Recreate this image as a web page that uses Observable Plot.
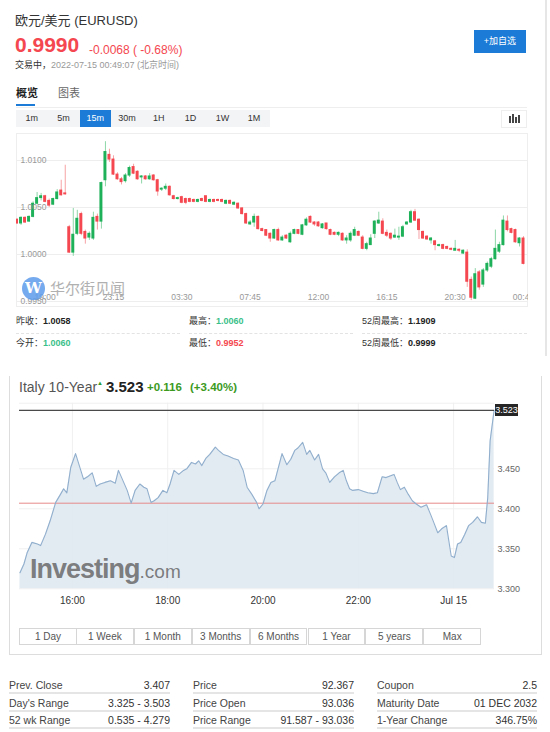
<!DOCTYPE html>
<html><head><meta charset="utf-8">
<script src="https://cdn.jsdelivr.net/npm/d3@7"></script>
<script src="https://cdn.jsdelivr.net/npm/@observablehq/plot@0.6"></script>
<style>
body{margin:0;width:550px;height:732px;position:relative;overflow:hidden;background:#fff;font-family:Arial,"Liberation Sans","Noto Sans CJK SC",sans-serif;}
.a{position:absolute;white-space:nowrap;line-height:1;}
</style></head><body>
<script>
// ---------- EUR/USD 15m candles (Jul 13 17:15 -> Jul 15 00:45) ----------
const candleOpen = [1.0037,1.0033,1.0039,1.0035,1.0040,1.0054,1.0060,1.0062,1.0057,1.0053,1.0059,1.0068,1.0065,1.0029,1.0002,1.0022,1.0043,1.0024,1.0018,1.0017,1.0040,1.0035,1.0079,1.0106,1.0101,1.0085,1.0080,1.0078,1.0084,1.0093,1.0088,1.0082,1.0083,1.0080,1.0084,1.0079,1.0069,1.0070,1.0072,1.0062,1.0059,1.0061,1.0059,1.0059,1.0058,1.0056,1.0059,1.0062,1.0056,1.0058,1.0058,1.0058,1.0054,1.0057,1.0053,1.0054,1.0049,1.0043,1.0032,1.0034,1.0040,1.0027,1.0026,1.0022,1.0017,1.0026,1.0015,1.0020,1.0013,1.0022,1.0026,1.0021,1.0031,1.0040,1.0034,1.0034,1.0028,1.0033,1.0026,1.0023,1.0021,1.0022,1.0015,1.0015,1.0020,1.0024,1.0018,1.0006,1.0010,1.0022,1.0033,1.0035,1.0023,1.0022,1.0018,1.0018,1.0019,1.0032,1.0034,1.0045,1.0037,1.0024,1.0019,1.0015,1.0014,1.0009,1.0010,1.0008,1.0006,1.0004,1.0005,1.0001,1.0002,0.9973,0.9953,0.9981,0.9968,0.9983,0.9987,0.9995,1.0003,1.0010,1.0035,1.0027,1.0026,1.0012,1.0017];
const candleClose = [1.0033,1.0039,1.0034,1.0040,1.0054,1.0060,1.0062,1.0056,1.0052,1.0059,1.0066,1.0063,1.0064,1.0002,1.0021,1.0038,1.0022,1.0017,1.0022,1.0039,1.0035,1.0076,1.0109,1.0101,1.0085,1.0080,1.0077,1.0084,1.0092,1.0086,1.0080,1.0083,1.0080,1.0083,1.0079,1.0067,1.0070,1.0072,1.0063,1.0059,1.0060,1.0055,1.0055,1.0056,1.0056,1.0058,1.0057,1.0056,1.0058,1.0056,1.0057,1.0056,1.0057,1.0054,1.0055,1.0049,1.0043,1.0033,1.0034,1.0040,1.0027,1.0025,1.0020,1.0017,1.0026,1.0015,1.0018,1.0017,1.0022,1.0026,1.0022,1.0031,1.0037,1.0034,1.0032,1.0030,1.0032,1.0027,1.0021,1.0021,1.0023,1.0015,1.0017,1.0022,1.0026,1.0020,1.0006,1.0011,1.0017,1.0035,1.0036,1.0022,1.0020,1.0017,1.0020,1.0019,1.0029,1.0034,1.0045,1.0036,1.0026,1.0017,1.0016,1.0017,1.0010,1.0010,1.0006,1.0006,1.0005,1.0006,1.0004,1.0004,0.9971,0.9954,0.9979,0.9965,0.9983,0.9990,0.9995,1.0006,1.0010,1.0036,1.0026,1.0023,1.0013,1.0017,0.9990];
const candleHigh = [1.0038,1.0040,1.0040,1.0041,1.0056,1.0066,1.0065,1.0063,1.0059,1.0060,1.0069,1.0079,1.0095,1.0031,1.0049,1.0047,1.0045,1.0026,1.0024,1.0045,1.0043,1.0077,1.0120,1.0112,1.0105,1.0087,1.0082,1.0086,1.0094,1.0096,1.0089,1.0084,1.0084,1.0086,1.0085,1.0080,1.0071,1.0075,1.0073,1.0063,1.0061,1.0062,1.0060,1.0060,1.0059,1.0059,1.0060,1.0062,1.0059,1.0059,1.0059,1.0059,1.0058,1.0058,1.0056,1.0055,1.0050,1.0044,1.0036,1.0043,1.0041,1.0028,1.0026,1.0023,1.0027,1.0028,1.0020,1.0021,1.0024,1.0027,1.0026,1.0032,1.0039,1.0041,1.0035,1.0035,1.0033,1.0033,1.0027,1.0024,1.0024,1.0023,1.0020,1.0024,1.0029,1.0025,1.0020,1.0013,1.0021,1.0036,1.0045,1.0038,1.0026,1.0023,1.0027,1.0029,1.0031,1.0035,1.0047,1.0048,1.0038,1.0025,1.0020,1.0018,1.0015,1.0011,1.0011,1.0009,1.0007,1.0015,1.0006,1.0005,1.0005,0.9976,0.9985,0.9983,0.9985,0.9992,0.9997,1.0026,1.0013,1.0041,1.0041,1.0028,1.0027,1.0018,1.0019];
const candleLow = [1.0032,1.0031,1.0033,1.0034,1.0039,1.0053,1.0057,1.0055,1.0050,1.0052,1.0058,1.0062,1.0063,1.0001,0.9998,1.0020,1.0020,1.0011,1.0015,1.0015,1.0026,1.0027,1.0072,1.0098,1.0084,1.0079,1.0074,1.0076,1.0082,1.0085,1.0079,1.0075,1.0079,1.0079,1.0078,1.0062,1.0067,1.0068,1.0062,1.0058,1.0058,1.0054,1.0053,1.0055,1.0055,1.0055,1.0056,1.0055,1.0055,1.0055,1.0056,1.0055,1.0053,1.0053,1.0052,1.0048,1.0042,1.0032,1.0031,1.0029,1.0026,1.0024,1.0019,1.0013,1.0016,1.0014,1.0014,1.0016,1.0012,1.0021,1.0021,1.0020,1.0030,1.0033,1.0030,1.0029,1.0027,1.0026,1.0020,1.0020,1.0019,1.0014,1.0011,1.0013,1.0019,1.0019,1.0005,1.0004,1.0010,1.0017,1.0032,1.0021,1.0018,1.0015,1.0017,1.0015,1.0018,1.0031,1.0033,1.0035,1.0016,1.0016,1.0015,1.0011,1.0004,1.0008,1.0005,1.0005,1.0004,1.0004,1.0002,1.0000,0.9965,0.9951,0.9952,0.9962,0.9965,0.9981,0.9985,0.9994,1.0001,1.0009,1.0024,1.0022,1.0012,1.0008,0.9989];
const candleTickIndex = [7,24,41,58,75,92,109,126];
const candleTickLabels = ["19:00","23:15","03:30","07:45","12:00","16:15","20:30","00:45"];
const priceTicks = [1.0100,1.0050,1.0000,0.9950];

// ---------- Italy 10-Year yield intraday ----------
const itTimes = ["14:54","14:59","15:03","15:09","15:16","15:20","15:26","15:32","15:39","15:45","15:49","15:53","15:58","16:04","16:10","16:14","16:19","16:25","16:30","16:35","16:41","16:48","16:54","16:58","17:02","17:09","17:14","17:19","17:25","17:30","17:34","17:39","17:43","17:48","17:54","17:59","18:03","18:08","18:14","18:20","18:24","18:30","18:35","18:39","18:43","18:48","18:53","19:00","19:04","19:10","19:16","19:23","19:29","19:35","19:40","19:46","19:52","19:55","20:00","20:05","20:10","20:15","20:24","20:30","20:35","20:40","20:44","20:50","20:55","20:59","21:05","21:10","21:15","21:19","21:24","21:30","21:36","21:41","21:45","21:49","21:53","22:00","22:06","22:12","22:19","22:24","22:30","22:35","22:40","22:45","22:49","22:53","22:58","23:03","23:08","23:13","23:19","23:26","23:31","23:35","23:40","23:45","23:51","23:54","23:57","00:01","00:05","00:09","00:14","00:19","00:24","00:30","00:35","00:40","00:43","00:46","00:51"];
const itValues = [3.320,3.331,3.345,3.358,3.356,3.354,3.368,3.385,3.408,3.418,3.425,3.420,3.452,3.469,3.450,3.437,3.440,3.445,3.428,3.431,3.433,3.435,3.432,3.448,3.439,3.423,3.407,3.423,3.431,3.427,3.425,3.408,3.410,3.414,3.423,3.420,3.431,3.448,3.443,3.448,3.450,3.458,3.456,3.460,3.454,3.463,3.468,3.477,3.473,3.468,3.466,3.463,3.461,3.448,3.427,3.418,3.408,3.400,3.406,3.423,3.433,3.435,3.469,3.455,3.462,3.473,3.476,3.483,3.468,3.473,3.461,3.468,3.450,3.445,3.433,3.440,3.445,3.448,3.435,3.425,3.423,3.424,3.422,3.420,3.419,3.420,3.440,3.439,3.441,3.443,3.433,3.424,3.427,3.418,3.410,3.406,3.402,3.405,3.393,3.383,3.370,3.375,3.379,3.360,3.341,3.339,3.356,3.358,3.368,3.379,3.383,3.390,3.383,3.382,3.414,3.485,3.523];
const itTickTimes = ["2022-07-14T16:00","2022-07-14T18:00","2022-07-14T20:00","2022-07-14T22:00","2022-07-15T00:00"];
const itTickLabels = ["16:00","18:00","20:00","22:00","Jul 15"];
const itYTicks = [3.300,3.350,3.400,3.450];
const itPrevClose = 3.407;
const itLast = 3.523;
const itDomain = ["2022-07-14T14:53:24","2022-07-15T00:51:30"];

const intervals = ["1m","5m","15m","30m","1H","1D","1W","1M"];
const ranges = ["1 Day","1 Week","1 Month","3 Months","6 Months","1 Year","5 years","Max"];
const statLabels = [["Prev. Close","Day's Range","52 wk Range"],["Price","Price Open","Price Range"],["Coupon","Maturity Date","1-Year Change"]];
const statValues = [["3.407","3.325 - 3.503","0.535 - 4.279"],["92.367","93.036","91.587 - 93.036"],["2.5","01 DEC 2032","346.75%"]];

// ---------- helpers ----------
function box(x,y,w,h,style){const e=document.createElement("div");e.className="a";Object.assign(e.style,{left:x+"px",top:y+"px",width:w+"px",height:h+"px"},style||{});document.body.appendChild(e);return e;}
function txt(x,y,t,style,html){const e=document.createElement("div");e.className="a";Object.assign(e.style,{left:x+"px",top:y+"px"},style||{});if(html)e.innerHTML=t;else e.textContent=t;document.body.appendChild(e);return e;}
const BLUE="#1b7bd7", RED="#f4474f";

// ---------- top header ----------
txt(15,14,"欧元/美元 (EURUSD)",{fontSize:"13px",color:"#333"});
txt(15,34,"0.9990",{fontSize:"21px",fontWeight:"bold",color:RED});
txt(89,44,"-0.0068 ( -0.68%)",{fontSize:"12px",color:RED});
txt(15,61,'<span style="color:#333">交易中，</span>2022-07-15 00:49:07 (北京时间)',{fontSize:"9px",color:"#999"},true);
const btn=box(474,30,52,23,{background:BLUE,color:"#fff",fontSize:"9px",textAlign:"center",lineHeight:"23px"});btn.textContent="+加自选";
txt(16,88,"概览",{fontSize:"11px",color:"#222",fontWeight:"bold"});
box(16,104,19,2,{background:BLUE});
txt(58,88,"图表",{fontSize:"11px",color:"#666"});
box(16,107,511,1,{background:"#eee"});
box(16,110,254,17,{background:"#f3f4f6"});
intervals.forEach((s,i)=>{const c=box(16+i*31.75,110,31.75,17,{fontSize:"9px",textAlign:"center",lineHeight:"17px",color:s==="15m"?"#fff":"#333",background:s==="15m"?BLUE:"transparent"});c.textContent=s;});
const ib=box(501,110,24,16,{border:"1px solid #eee",background:"#fff"});
[[7,5,2,7],[10,3,2,9],[13,6,2,6],[16,4,2,8]].forEach(r=>{const b=document.createElement("div");Object.assign(b.style,{position:"absolute",left:r[0]+"px",top:r[1]+"px",width:r[2]+"px",height:r[3]+"px",background:"#444"});ib.appendChild(b);});

// ---------- candlestick chart ----------
box(16,133,512,174,{border:"1px solid #eee",boxSizing:"border-box"});
const candles = candleOpen.map((o,i)=>({i,o,c:candleClose[i],h:candleHigh[i],l:candleLow[i],up:candleClose[i]>=o}));
const cChart = Plot.plot({
  width:512,height:174,margin:0,
  x:{domain:[-0.124,127.24],axis:null},
  y:{domain:[0.994362,1.012872],axis:null},
  style:{background:"transparent",fontFamily:"Arial, 'Liberation Sans', sans-serif"},
  marks:[
    Plot.ruleY(priceTicks,{stroke:"#eeeeee"}),
    Plot.ruleX(candles,{x:"i",y1:"l",y2:"h",stroke:d=>d.up?"#8ed6a8":"#f7a2a5",strokeWidth:1}),
    Plot.rect(candles,{x1:d=>d.i-0.37,x2:d=>d.i+0.37,y1:"o",y2:"c",fill:d=>d.up?"#1fb15a":"#f4474f",insetTop:-0.5,insetBottom:-0.5}),
    Plot.text(priceTicks,{y:d=>d,frameAnchor:"left",dx:4,text:d=>d.toFixed(4),textAnchor:"start",fill:"#999",fontSize:8.5}),
    Plot.text(candleTickIndex,{x:d=>d,frameAnchor:"bottom",dy:-8,text:(d,i)=>candleTickLabels[i],fill:"#999",fontSize:8.5})
  ]
});
Object.assign(cChart.style,{position:"absolute",left:"16px",top:"133px"});
document.body.appendChild(cChart);
const logo=box(22,277,23,23,{borderRadius:"50%",background:"#5d9cec",opacity:"0.85",color:"#fff",fontSize:"15px",fontWeight:"bold",textAlign:"center",lineHeight:"23px",fontFamily:"'DejaVu Serif',serif"});logo.textContent="W";
txt(50,280,"华尔街见闻",{fontSize:"15px",color:"#a8a8a8",fontFamily:"'Noto Sans CJK SC'",opacity:"0.9"});

// ---------- stats (top) ----------
const topStats=[["昨收：","1.0058","#222"],["最高：","1.0060","#3bbf8a"],["52周最高：","1.1909","#222"],["今开：","1.0060","#3bbf8a"],["最低：","0.9952","#f4474f"],["52周最低：","0.9999","#222"]];
const colX=[16,189,362];
topStats.forEach((s,i)=>{const r=Math.floor(i/3),c=i%3;txt(colX[c],317+r*22,s[0]+'<b style="color:'+s[2]+'">'+s[1]+'</b>',{fontSize:"9px",color:"#333"},true);});
colX.forEach(x=>box(x,333,x===362?165:164,0,{borderTop:"1px dashed #e3e3e3"}));
box(545,0,2,356,{background:"#e6e6e6"});

// ---------- bottom section ----------
box(9,376,531,278,{border:"1px solid #ddd",borderTop:"none"});
txt(19,380,"Italy 10-Year",{fontSize:"14px",color:"#555"});
txt(97,380,"▲",{fontSize:"6px",color:"#2e9a2e"});
txt(106,379,"3.523",{fontSize:"15px",fontWeight:"bold",color:"#222"});
txt(147,382,"+0.116",{fontSize:"11.5px",fontWeight:"bold",color:"#3c9a1e"});
txt(190,382,"(+3.40%)",{fontSize:"11.5px",fontWeight:"bold",color:"#3c9a1e"});

const series = itTimes.map((t,i)=>({t:new Date((t<"12:00"?"2022-07-15T":"2022-07-14T")+t),v:itValues[i]}));
const tickDates = itTickTimes.map(s=>new Date(s));
const labelByTime = new Map(tickDates.map((d,i)=>[+d,itTickLabels[i]]));
const iChart = Plot.plot({
  width:506,height:215,marginLeft:0,marginRight:31,marginTop:2.7,marginBottom:26.7,
  x:{type:"time",domain:itDomain.map(s=>new Date(s)),label:null},
  y:{domain:[3.300,3.532],label:null},
  style:{background:"transparent",fontFamily:"Arial, 'Liberation Sans', sans-serif",fontSize:"9px"},
  marks:[
    Plot.ruleX(tickDates,{stroke:"#f0f0f0"}),
    Plot.ruleY(itYTicks,{stroke:"#f0f0f0"}),
    Plot.ruleY([3.532],{stroke:"#f0f0f0"}),
    Plot.areaY(series,{x:"t",y1:3.300,y2:"v",fill:"#dfe8f1",fillOpacity:0.92}),
    Plot.ruleY([itPrevClose],{stroke:"#e68a8a",strokeWidth:1}),
    Plot.line(series,{x:"t",y:"v",stroke:"#91afcd",strokeWidth:1.1}),
    Plot.ruleY([itLast],{stroke:"#4a4a4a",strokeWidth:1.2}),
    Plot.axisX({ticks:tickDates,tickFormat:d=>labelByTime.get(+d),tickSize:0,tickPadding:8,fontSize:10,fill:"#333",label:null}),
    Plot.axisY({anchor:"right",ticks:itYTicks,tickFormat:d=>d.toFixed(3),tickSize:0,tickPadding:3,fontSize:9,fill:"#666",label:null})
  ]
});
Object.assign(iChart.style,{position:"absolute",left:"19px",top:"400px"});
document.body.appendChild(iChart);
const yLast = iChart.scale("y").apply(itLast)+400;
const lb=box(495,yLast-6,23,12,{background:"#262626",color:"#fff",fontSize:"9px",textAlign:"center",lineHeight:"12px"});lb.textContent=itLast.toFixed(3);
txt(30,556,'Investing<span style="font-weight:normal;font-size:19px;letter-spacing:0">.com</span>',{fontSize:"27px",fontWeight:"bold",color:"rgba(95,95,95,0.8)",letterSpacing:"-1px"},true);

ranges.forEach((s,i)=>{const c=box(19+i*57.9,628,57.9,17,{border:"1px solid #d6d6d6",boxSizing:"border-box",marginLeft:i?"-1px":"0",fontSize:"10px",textAlign:"center",lineHeight:"15px",color:"#555",background:"#fff"});c.textContent=s;});

const sCols=[[9,170],[193,354],[377,537]];
statLabels.forEach((col,c)=>col.forEach((lab,r)=>{
  const y=680+r*17.6;
  txt(sCols[c][0],y,lab,{fontSize:"10.5px",color:"#444"});
  txt(sCols[c][0],y,statValues[c][r],{fontSize:"10.5px",color:"#333",width:(sCols[c][1]-sCols[c][0])+"px",textAlign:"right"});
  box(sCols[c][0],y+12,sCols[c][1]-sCols[c][0],2,{background:"#e5e5e5"});
}));
</script>
</body></html>
